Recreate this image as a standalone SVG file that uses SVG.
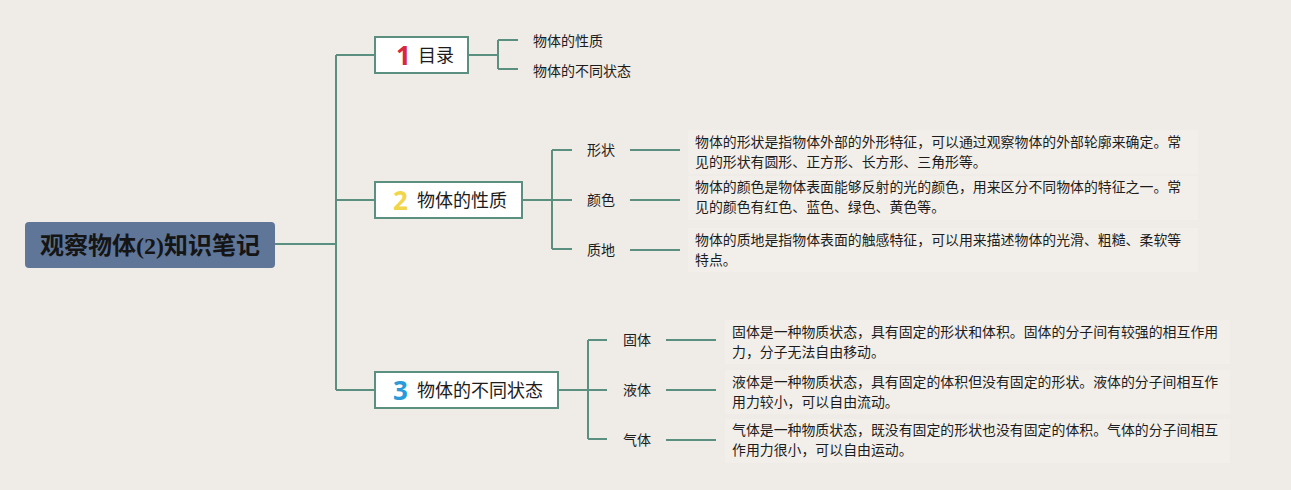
<svg xmlns="http://www.w3.org/2000/svg" width="1291" height="490" viewBox="0 0 1291 490">
<style>
.cn{font-family:"Noto Sans CJK SC","Noto Sans",sans-serif;fill:#1c1c1c}
.lbl{font-size:14px}
.desc{font-size:13.9px}
.box{fill:#fff;stroke:#5b9080;stroke-width:2}
.btxt{font-size:18px}
.num{font-family:"Noto Sans","Liberation Sans",sans-serif;font-weight:bold;font-size:26px}
.ln{fill:none;stroke:#5b9080;stroke-width:2}
.hl{fill:#f2efea}
</style>
<rect width="1291" height="490" fill="#efebe6"/>
<g id="connectors">
<path class="ln" d="M274 244H336M336 55V390M336 55H375M336 200H375M336 390H375"/>
<path class="ln" d="M468 55H498M498 40V69M498 40H518M498 69H518"/>
<path class="ln" d="M522 200H552M552 150V249M552 150H572M552 200H572M552 249H572"/>
<path class="ln" d="M630 150H680M630 200H680M630 250H680"/>
<path class="ln" d="M558 390H588M588 340V439M588 340H607M588 390H607M588 439H607"/>
<path class="ln" d="M666 340H716M666 390H716M666 440H716"/>
</g>
<g id="root">
<rect x="25" y="222" width="250" height="46" rx="4" fill="#5f7698"/>
<text x="150" y="254" text-anchor="middle" class="cn" style="font-size:24px;font-weight:bold;fill:#151515">观察物体<tspan style="font-family:'Liberation Serif',serif">(2)</tspan>知识笔记</text>
</g>
<g id="node1">
<rect class="box" x="375" y="37" width="93" height="36"/>
<text x="396" y="65" class="num" fill="#d8283d">1</text>
<text x="418" y="62" class="cn btxt">目录</text>
</g>
<g id="node1a"><text x="533" y="46" class="cn lbl">物体的性质</text></g>
<g id="node1b"><text x="533" y="76" class="cn lbl">物体的不同状态</text></g>
<g id="node2">
<rect class="box" x="375" y="182" width="147" height="36"/>
<text x="393" y="210" class="num" fill="#f1d54b">2</text>
<text x="417" y="207" class="cn btxt">物体的性质</text>
</g>
<g id="node2a"><text x="587" y="155" class="cn lbl">形状</text></g>
<g id="node2b"><text x="587" y="205" class="cn lbl">颜色</text></g>
<g id="node2c"><text x="587" y="255" class="cn lbl">质地</text></g>
<g id="desc2a">
<rect class="hl" x="688" y="130" width="510" height="44"/>
<text class="cn desc" x="695" y="147">物体的形状是指物体外部的外形特征，可以通过观察物体的外部轮廓来确定。常</text>
<text class="cn desc" x="695" y="167">见的形状有圆形、正方形、长方形、三角形等。</text>
</g>
<g id="desc2b">
<rect class="hl" x="688" y="176" width="510" height="44"/>
<text class="cn desc" x="695" y="192">物体的颜色是物体表面能够反射的光的颜色，用来区分不同物体的特征之一。常</text>
<text class="cn desc" x="695" y="212">见的颜色有红色、蓝色、绿色、黄色等。</text>
</g>
<g id="desc2c">
<rect class="hl" x="688" y="228" width="510" height="44"/>
<text class="cn desc" x="695" y="245">物体的质地是指物体表面的触感特征，可以用来描述物体的光滑、粗糙、柔软等</text>
<text class="cn desc" x="695" y="265">特点。</text>
</g>
<g id="node3">
<rect class="box" x="375" y="372" width="183" height="36"/>
<text x="393" y="400" class="num" fill="#2b9ad9">3</text>
<text x="417" y="397" class="cn btxt">物体的不同状态</text>
</g>
<g id="node3a"><text x="623" y="345" class="cn lbl">固体</text></g>
<g id="node3b"><text x="623" y="395" class="cn lbl">液体</text></g>
<g id="node3c"><text x="623" y="445" class="cn lbl">气体</text></g>
<g id="desc3a">
<rect class="hl" x="725" y="320" width="505" height="44"/>
<text class="cn desc" x="732" y="337">固体是一种物质状态，具有固定的形状和体积。固体的分子间有较强的相互作用</text>
<text class="cn desc" x="732" y="357">力，分子无法自由移动。</text>
</g>
<g id="desc3b">
<rect class="hl" x="725" y="370" width="505" height="44"/>
<text class="cn desc" x="732" y="387">液体是一种物质状态，具有固定的体积但没有固定的形状。液体的分子间相互作</text>
<text class="cn desc" x="732" y="407">用力较小，可以自由流动。</text>
</g>
<g id="desc3c">
<rect class="hl" x="725" y="419" width="505" height="44"/>
<text class="cn desc" x="732" y="435">气体是一种物质状态，既没有固定的形状也没有固定的体积。气体的分子间相互</text>
<text class="cn desc" x="732" y="455">作用力很小，可以自由运动。</text>
</g>
</svg>
